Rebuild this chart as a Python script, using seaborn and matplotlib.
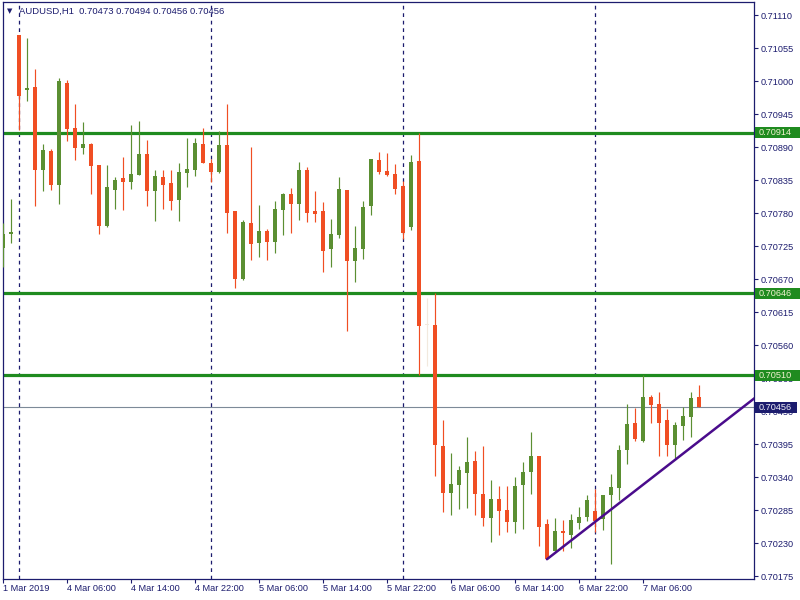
import numpy as np
import pandas as pd
import matplotlib
matplotlib.use("Agg")
import matplotlib.pyplot as plt
import matplotlib.transforms as mtransforms
from matplotlib.patches import Rectangle
import seaborn as sns

# ---------------- data (AUDUSD, H1) ----------------
opens = [0.70721, 0.70745, 0.71077, 0.70985, 0.70990, 0.70852, 0.70883, 0.70827, 0.70997, 0.70922,
         0.70888, 0.70895, 0.70860, 0.70758, 0.70818, 0.70838, 0.70832, 0.70843, 0.70878, 0.70817,
         0.70840, 0.70830, 0.70802, 0.70847, 0.70852, 0.70895, 0.70863, 0.70848, 0.70893, 0.70783,
         0.70670, 0.70763, 0.70730, 0.70750, 0.70732, 0.70785, 0.70812, 0.70795, 0.70852, 0.70783,
         0.70783, 0.70720, 0.70743, 0.70818, 0.70700, 0.70720, 0.70792, 0.70868, 0.70850, 0.70845,
         0.70825, 0.70757, 0.70867, 0.70593, 0.70593, 0.70392, 0.70313, 0.70327, 0.70347, 0.70367,
         0.70312, 0.70272, 0.70303, 0.70285, 0.70265, 0.70327, 0.70348, 0.70375, 0.70262, 0.70217,
         0.70250, 0.70243, 0.70263, 0.70273, 0.70283, 0.70270, 0.70310, 0.70322, 0.70385, 0.70430,
         0.70400, 0.70473, 0.70462, 0.70435, 0.70393, 0.70425, 0.70440, 0.70473]
highs = [0.70764, 0.70803, 0.71077, 0.71072, 0.71020, 0.70895, 0.70887, 0.71005, 0.71002, 0.70962,
         0.70932, 0.70897, 0.70860, 0.70860, 0.70840, 0.70873, 0.70927, 0.70933, 0.70902, 0.70852,
         0.70852, 0.70852, 0.70863, 0.70905, 0.70905, 0.70922, 0.70870, 0.70917, 0.70962, 0.70783,
         0.70768, 0.70890, 0.70793, 0.70753, 0.70800, 0.70813, 0.70822, 0.70865, 0.70857, 0.70817,
         0.70798, 0.70770, 0.70840, 0.70818, 0.70758, 0.70800, 0.70870, 0.70882, 0.70880, 0.70862,
         0.70833, 0.70877, 0.70914, 0.70638, 0.70646, 0.70435, 0.70380, 0.70358, 0.70407, 0.70383,
         0.70392, 0.70335, 0.70325, 0.70325, 0.70340, 0.70365, 0.70415, 0.70375, 0.70270, 0.70272,
         0.70268, 0.70278, 0.70290, 0.70310, 0.70320, 0.70310, 0.70345, 0.70393, 0.70462, 0.70455,
         0.70510, 0.70477, 0.70482, 0.70453, 0.70432, 0.70457, 0.70482, 0.70494]
lows = [0.70690, 0.70730, 0.70918, 0.70967, 0.70792, 0.70817, 0.70818, 0.70795, 0.70900, 0.70868,
        0.70878, 0.70812, 0.70745, 0.70757, 0.70787, 0.70785, 0.70820, 0.70843, 0.70792, 0.70767,
        0.70787, 0.70785, 0.70767, 0.70823, 0.70842, 0.70863, 0.70832, 0.70847, 0.70747, 0.70655,
        0.70668, 0.70702, 0.70707, 0.70702, 0.70713, 0.70743, 0.70747, 0.70768, 0.70765, 0.70765,
        0.70682, 0.70690, 0.70738, 0.70583, 0.70665, 0.70703, 0.70777, 0.70845, 0.70842, 0.70812,
        0.70737, 0.70752, 0.70510, 0.70525, 0.70342, 0.70282, 0.70277, 0.70287, 0.70288, 0.70277,
        0.70258, 0.70232, 0.70243, 0.70248, 0.70247, 0.70253, 0.70312, 0.70225, 0.70203, 0.70217,
        0.70217, 0.70222, 0.70253, 0.70267, 0.70248, 0.70252, 0.70195, 0.70302, 0.70362, 0.70400,
        0.70398, 0.70430, 0.70375, 0.70375, 0.70372, 0.70402, 0.70407, 0.70456]
closes = [0.70745, 0.70748, 0.70975, 0.70988, 0.70852, 0.70885, 0.70827, 0.71000, 0.70920, 0.70888,
          0.70895, 0.70858, 0.70758, 0.70823, 0.70835, 0.70832, 0.70845, 0.70878, 0.70817, 0.70842,
          0.70827, 0.70800, 0.70848, 0.70853, 0.70897, 0.70863, 0.70848, 0.70893, 0.70780, 0.70670,
          0.70765, 0.70728, 0.70750, 0.70732, 0.70787, 0.70812, 0.70795, 0.70852, 0.70780, 0.70778,
          0.70717, 0.70745, 0.70820, 0.70700, 0.70722, 0.70790, 0.70870, 0.70848, 0.70843, 0.70820,
          0.70747, 0.70865, 0.70592, 0.70593, 0.70393, 0.70313, 0.70328, 0.70352, 0.70365, 0.70312,
          0.70272, 0.70303, 0.70283, 0.70265, 0.70325, 0.70348, 0.70375, 0.70257, 0.70203, 0.70250,
          0.70247, 0.70268, 0.70273, 0.70302, 0.70267, 0.70310, 0.70323, 0.70385, 0.70428, 0.70403,
          0.70473, 0.70460, 0.70430, 0.70393, 0.70427, 0.70442, 0.70472, 0.70456]

time_labels = ["1 Mar 2019", "4 Mar 06:00", "4 Mar 14:00", "4 Mar 22:00", "5 Mar 06:00",
               "5 Mar 14:00", "5 Mar 22:00", "6 Mar 06:00", "6 Mar 14:00", "6 Mar 22:00",
               "7 Mar 06:00"]
time_label_bars = [0, 8, 16, 24, 32, 40, 48, 56, 64, 72, 80]
day_start_bars = [2, 26, 50, 74]
levels = [0.70914, 0.70646, 0.70510]
bid_price = 0.70456
trend_bars = [68, 94]
trend_prices = [0.70203, 0.70472]
ytick_values = [0.70175, 0.70230, 0.70285, 0.70340, 0.70395, 0.70450, 0.70505, 0.70560,
                0.70615, 0.70670, 0.70725, 0.70780, 0.70835, 0.70890, 0.70945, 0.71000,
                0.71055, 0.71110]
symbol = "AUDUSD,H1"

# ---------------- style ----------------
sns.set_theme(style="white")
plt.rcParams['font.family'] = ['Liberation Sans', 'DejaVu Sans']

NAVY = '#1c1c6e'
RED = '#F04E23'
GREEN = '#5B8F32'
DOJI = '#F2E9DE'
LEVEL = '#1F8B1F'
BIDLINE = '#7D8A98'
TREND = '#4A0C8C'
FS = 6.6

fig = plt.figure(figsize=(8, 6), dpi=100)
fig.patch.set_facecolor('white')
ax = fig.add_axes([2.5 / 800, 21 / 600, 751.5 / 800, 577 / 600])
ax.set_facecolor('white')

df = pd.DataFrame(dict(o=opens, h=highs, l=lows, c=closes))
df['bar'] = np.arange(len(df))
cols = np.where(df.c > df.o, GREEN, np.where(df.c < df.o, RED, DOJI))

# day separators
for b in day_start_bars:
    ax.axvline(b, color=NAVY, lw=0.9, ls=(0, (3, 3)), zorder=1)

# horizontal levels
for lv in levels:
    ax.axhline(lv, color=LEVEL, lw=2.3, zorder=2)
ax.axhline(bid_price, color=BIDLINE, lw=0.8, zorder=2)

# candles
ax.vlines(df.bar, df.l, df.h, colors=cols, lw=0.85, zorder=3)
bottoms = np.minimum(df.o, df.c)
heights = np.maximum(np.abs(df.c - df.o), 0.000016)
ax.bar(df.bar, heights, bottom=bottoms, width=0.62, color=cols, lw=0, zorder=4)

# trend line
sns.lineplot(x=trend_bars, y=trend_prices, ax=ax, color=TREND, lw=1.8, zorder=5)

ax.set_xlim(-0.0625, 93.875)
ax.set_ylim(0.701700, 0.711317)

# axes styling
for s in ax.spines.values():
    s.set_color(NAVY)
    s.set_linewidth(0.9)
ax.grid(False)

ax.yaxis.tick_right()
ax.set_yticks(ytick_values)
ax.set_yticklabels([f"{v:.5f}" for v in ytick_values])
ax.tick_params(axis='y', right=True, left=False, direction='out', length=3, width=0.8,
               color=NAVY, labelcolor=NAVY, labelsize=FS, pad=1.5)
ax.set_xticks(time_label_bars)
ax.set_xticklabels(time_labels)
ax.tick_params(axis='x', bottom=True, direction='out', length=3, width=0.8,
               color=NAVY, labelcolor=NAVY, labelsize=FS, pad=0.8)
for t in ax.get_xticklabels():
    t.set_ha('left')
ax.set_xlabel('')
ax.set_ylabel('')

# price labels on right axis
trans = mtransforms.blended_transform_factory(ax.transAxes, ax.transData)
x0 = (755 - 2.5) / 751.5
h = 11 / 60000
xt = (759 - 2.5) / 751.5
for lv in levels:
    ax.add_patch(Rectangle((x0, lv - h / 2), (800 - 755) / 751.5, h, transform=trans,
                           clip_on=False, fc=LEVEL, ec='none', zorder=6))
    ax.text(xt, lv, f"{lv:.5f}", transform=trans, ha='left', va='center',
            fontsize=FS, color='#F2F2D0', zorder=7, clip_on=False)
ax.add_patch(Rectangle((x0, bid_price - h / 2), (797 - 755) / 751.5, h, transform=trans,
                       clip_on=False, fc=NAVY, ec='none', zorder=6))
ax.text(xt, bid_price, f"{bid_price:.5f}", transform=trans, ha='left', va='center',
        fontsize=FS, color='#F0F0F8', zorder=7, clip_on=False)

# header
fig.text(9.5 / 800, 1 - 11 / 600, '\u25BC', fontsize=5, ha='center', va='center',
         color=NAVY, family=['DejaVu Sans'])
header = f"{symbol}  {opens[-1]:.5f} {highs[-1]:.5f} {lows[-1]:.5f} {closes[-1]:.5f}"
fig.text(19 / 800, 1 - 11 / 600, header, fontsize=6.8, ha='left', va='center', color=NAVY)

fig.savefig('out.png', dpi=100)
